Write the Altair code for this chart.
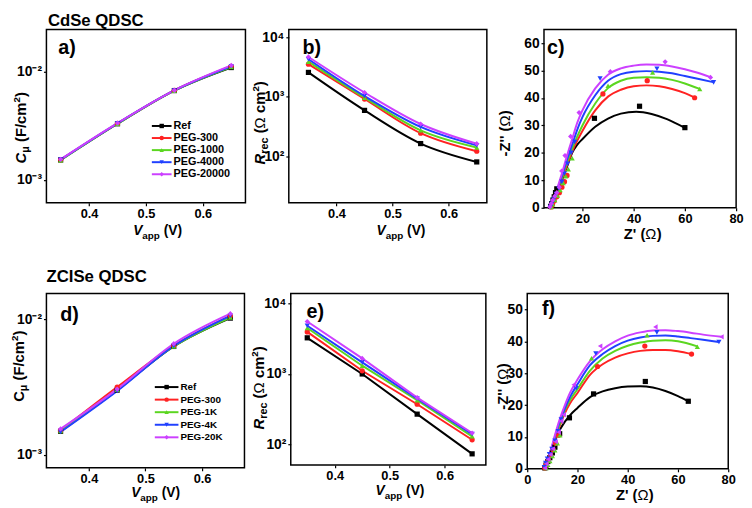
import altair as alt
import pandas as pd

FONT = "Liberation Sans"
COLORS = ["#000000", "#FF2222", "#5BD620", "#2040FF", "#CC40FF"]

# ---------------- data ----------------
V_APP = [0.35, 0.45, 0.55, 0.65]

A_NAMES = ["Ref", "PEG-300", "PEG-1000", "PEG-4000", "PEG-20000"]
A_REF = [1.53e-3, 3.30e-3, 6.68e-3, 1.09e-2]
A_P300 = [1.54e-3, 3.32e-3, 6.70e-3, 1.12e-2]
A_P1000 = [1.52e-3, 3.30e-3, 6.66e-3, 1.10e-2]
A_P4000 = [1.54e-3, 3.33e-3, 6.70e-3, 1.12e-2]
A_P20000 = [1.55e-3, 3.35e-3, 6.72e-3, 1.14e-2]

B_REF = [2570, 590, 163, 80]
B_P300 = [3540, 916, 244, 121]
B_P1000 = [3900, 966, 272, 140]
B_P4000 = [4290, 1030, 311, 152]
B_P20000 = [4680, 1180, 348, 162]

# panel c: Nyquist, measured points (Z', -Z'')
C_REF_X = [7.6, 8.0, 8.5, 9.0, 9.5, 10.0, 24.7, 42.3, 60.0]
C_REF_Y = [0.5, 1.5, 2.8, 4.0, 5.5, 6.9, 32.6, 37.0, 29.2]
C_P300_X = [7.8, 8.3, 9.0, 10.0, 11.0, 12.0, 13.0, 14.0, 28.0, 45.3, 63.8]
C_P300_Y = [0.3, 1.2, 2.5, 4.0, 5.5, 7.5, 9.5, 11.8, 41.5, 46.3, 40.1]
C_P1000_X = [7.8, 8.4, 9.2, 10.2, 11.3, 12.5, 13.5, 14.5, 16.0, 30.0, 47.4, 65.8]
C_P1000_Y = [0.3, 1.3, 2.8, 4.5, 6.5, 9.0, 11.5, 14.0, 18.0, 44.5, 49.3, 43.3]
C_P4000_X = [7.5, 8.1, 8.8, 9.8, 10.8, 12.0, 13.0, 14.2, 15.6, 17.0, 26.9, 49.1, 71.2]
C_P4000_Y = [0.3, 1.5, 3.0, 5.0, 7.0, 9.5, 12.5, 16.0, 20.0, 24.0, 47.1, 50.7, 45.7]
C_P20000_X = [7.3, 7.8, 8.4, 9.2, 10.0, 11.0, 11.9, 13.2, 15.4, 18.7, 30.9, 52.3, 70.0]
C_P20000_Y = [0.3, 1.5, 2.8, 4.2, 5.5, 7.5, 13.4, 19.0, 26.0, 34.7, 49.6, 53.2, 47.5]
# panel c: fitted curves
CF_REF_X = [7.5, 8.5, 10, 12, 14, 16, 18, 20, 25, 30, 35, 41, 47, 53, 60]
CF_REF_Y = [0, 2.5, 6, 10, 15, 20, 23, 25, 29.5, 32.5, 34.3, 35, 34.2, 32.3, 29.1]
CF_P300_X = [7.5, 8.5, 10, 12, 14, 16, 18, 20, 25, 30, 35, 40, 45, 50, 55, 60, 63.8]
CF_P300_Y = [0, 2.5, 6, 10.5, 15.5, 20.5, 24.5, 28, 35.5, 40.5, 43, 44.3, 44.6, 44.3, 43.3, 41.8, 40.2]
CF_P1000_X = [7.5, 8.5, 10, 12, 14, 16, 18, 20, 25, 30, 35, 40, 45, 50, 55, 60, 65.8]
CF_P1000_Y = [0, 2.5, 6, 11, 16.5, 21.5, 26, 30, 38, 43.6, 46.3, 47.4, 47.6, 47.4, 46.6, 45.3, 43.3]
CF_P4000_X = [7.5, 8.5, 10, 12, 14, 16, 18, 20, 25, 30, 35, 40, 45, 50, 55, 60, 65, 71]
CF_P4000_Y = [0, 2.6, 6.3, 11.5, 17.5, 23, 28.5, 33, 41, 46.3, 48.7, 49.6, 49.8, 49.6, 49, 48, 47, 45.8]
CF_P20000_X = [7.3, 8.3, 10, 12, 14, 16, 18, 20, 25, 30, 35, 40, 45, 50, 55, 60, 65, 70]
CF_P20000_Y = [0, 2.6, 6.6, 12.5, 19, 25, 31, 35.5, 43.5, 48.5, 50.8, 51.8, 52.2, 52.1, 51.5, 50.5, 49.2, 47.6]

D_NAMES = ["Ref", "PEG-300", "PEG-1K", "PEG-4K", "PEG-20K"]
D_REF = [1.49e-3, 3.00e-3, 6.30e-3, 1.02e-2]
D_P300 = [1.51e-3, 3.16e-3, 6.40e-3, 1.06e-2]
D_P1K = [1.50e-3, 3.02e-3, 6.30e-3, 1.03e-2]
D_P4K = [1.47e-3, 2.95e-3, 6.35e-3, 1.06e-2]
D_P20K = [1.55e-3, 3.05e-3, 6.60e-3, 1.10e-2]

E_REF = [3250, 1000, 270, 74]
E_P300 = [3940, 1110, 373, 117]
E_P1K = [4480, 1310, 425, 131]
E_P4K = [4820, 1460, 448, 141]
E_P20K = [5530, 1660, 463, 146]

F_REF_X = [7.0, 7.5, 8.2, 9.0, 10.0, 11.0, 12.9, 16.8, 26.4, 47.0, 64.1]
F_REF_Y = [0.3, 1.2, 2.3, 3.5, 5.0, 6.8, 11.0, 16.0, 23.5, 27.4, 21.2]
F_P300_X = [7.0, 7.6, 8.4, 9.3, 10.3, 11.3, 12.5, 28.0, 46.8, 65.4]
F_P300_Y = [0.3, 1.5, 2.8, 4.3, 6.0, 8.0, 10.5, 32.1, 38.5, 36.0]
F_P1K_X = [7.5, 8.2, 9.0, 10.0, 11.0, 12.0, 13.0, 25.6, 47.7, 67.7]
F_P1K_Y = [0.3, 1.3, 2.5, 4.0, 5.8, 8.0, 10.5, 34.7, 41.9, 38.3]
F_P4K_X = [6.8, 7.3, 8.0, 8.8, 9.8, 11.0, 12.3, 13.5, 19.5, 27.3, 51.6, 76.3]
F_P4K_Y = [0.5, 1.8, 3.2, 4.6, 6.2, 8.8, 11.8, 15.5, 25.3, 36.2, 42.8, 39.8]
F_P20K_X = [7.0, 7.6, 8.3, 9.2, 10.2, 11.3, 12.5, 13.5, 14.5, 18.5, 29.0, 51.0, 77.3]
F_P20K_Y = [0.3, 1.6, 3.0, 4.5, 6.3, 8.5, 11.5, 15.0, 17.0, 26.4, 38.5, 44.5, 41.4]
FF_REF_X = [6.8, 8, 9.5, 11, 12.5, 15, 17, 20, 25, 30, 35, 40, 45, 50, 55, 60, 64.1]
FF_REF_Y = [0, 2.5, 5.5, 8.8, 11.5, 14.8, 16.8, 19.1, 22.5, 24.3, 25.3, 25.8, 25.9, 25.5, 24.4, 22.8, 21.2]
FF_P300_X = [6.8, 8, 9.5, 11, 12.5, 15, 17, 20, 25, 30, 35, 40, 45, 50, 55, 60, 65.4]
FF_P300_Y = [0, 2.5, 5.5, 9, 12.5, 17.5, 20.5, 23.8, 29.5, 32.8, 34.9, 36.2, 37, 37.3, 37.3, 36.9, 36]
FF_P1K_X = [6.8, 8, 9.5, 11, 12.5, 15, 17, 20, 25, 30, 35, 40, 45, 50, 55, 60, 67.7]
FF_P1K_Y = [0, 2.5, 5.8, 9.5, 13, 18.5, 21.5, 25, 30.8, 34.6, 37, 38.6, 39.6, 40.2, 40.3, 40, 38.4]
FF_P4K_X = [6.8, 8, 9.5, 11, 12.5, 15, 17, 20, 25, 30, 35, 40, 45, 50, 55, 60, 65, 70, 76.3]
FF_P4K_Y = [0, 2.7, 6, 10, 13.8, 19, 22.5, 26.5, 32.5, 36, 38.5, 40.2, 41.2, 41.7, 41.8, 41.5, 41, 40.5, 39.8]
FF_P20K_X = [6.8, 8, 9.5, 11, 12.5, 15, 17, 20, 25, 30, 35, 40, 45, 50, 55, 60, 65, 70, 77.3]
FF_P20K_Y = [0, 2.8, 6.3, 10.5, 14.5, 20, 23.8, 28, 33.8, 37.5, 40, 41.8, 42.8, 43.4, 43.5, 43.2, 42.7, 42.1, 41.4]

SHAPES_A = ["square", "circle", "triangle-up", "triangle-down", "diamond"]
SHAPES_F = ["square", "circle", "triangle-up", "triangle-down", "triangle-left"]

ROW1_TITLE = "CdSe QDSC"
ROW2_TITLE = "ZCISe QDSC"

# ---------------- helpers ----------------
WID = {' ': 278, '(': 333, ')': 333, '/': 278, "'": 238, '-': 333, '.': 278,
       'C': 722, 'F': 611, 'R': 722, 'V': 667, 'Z': 611, 'a': 556, 'c': 556,
       'e': 556, 'm': 889, 'p': 611, 'r': 389, 'μ': 611, 'Ω': 768}


def tw(s, size):
    return sum(WID.get(ch, 556) for ch in s) * size / 1000.0


def one_row():
    return alt.Data(values=[{"k": 0}])


def rich(pieces, x, y, angle=0):
    out = []
    off = 0.0
    for (t, size, italic, shift, weight) in pieces:
        stripped = t.lstrip(" ")
        off += tw(" " * (len(t) - len(stripped)), size)
        out.append(
            alt.Chart(one_row()).mark_text(
                align="left", baseline="alphabetic", font=FONT, fontSize=size,
                fontStyle="italic" if italic else "normal", fontWeight=weight,
                angle=angle, dx=off, dy=shift, color="black",
            ).encode(x=alt.value(x), y=alt.value(y), text=alt.value(stripped))
        )
        off += tw(stripped, size)
    return out


def spacers(ext, top, w, h):
    # invisible layout guides fixing how far a panel reaches left and up
    left = alt.Chart(one_row()).mark_rule(opacity=0, strokeWidth=1).encode(
        x=alt.value(-ext), x2=alt.value(-ext), y=alt.value(h / 2), y2=alt.value(h / 2 + 1))
    up = alt.Chart(one_row()).mark_rule(opacity=0, strokeWidth=1).encode(
        x=alt.value(w / 2), x2=alt.value(w / 2 + 1), y=alt.value(-top), y2=alt.value(-top))
    return [left, up]


def series_df(xs, ys, name):
    return pd.DataFrame({"x": xs, "y": ys, "s": name})


def make_panel(pts, fits, names, shapes, xdom, ydom, ylog, xvals, xfmt, yvals,
               ylabexpr, w, h, interp, extras, ext, top, legend=None):
    xs = alt.Scale(domain=xdom, nice=False, zero=False)
    if ylog:
        ys = alt.Scale(type="log", domain=ydom, nice=False)
    else:
        ys = alt.Scale(domain=ydom, nice=False, zero=False)
    xax = alt.Axis(values=xvals, format=xfmt, title=None, labelFontSize=13)
    ykw = dict(values=yvals, title=None, labelFontSize=14)
    if ylabexpr:
        ykw["labelExpr"] = ylabexpr
    else:
        ykw["format"] = "d"
    yax = alt.Axis(**ykw)
    cs = alt.Scale(domain=names, range=COLORS)
    ss = alt.Scale(domain=names, range=shapes)
    X = alt.X("x:Q", scale=xs, axis=xax)
    Y = alt.Y("y:Q", scale=ys, axis=yax)
    C = alt.Color("s:N", scale=cs, legend=None)
    S = alt.Shape("s:N", scale=ss, legend=None)
    layers = []
    for df in fits:
        layers.append(alt.Chart(df).mark_line(interpolate=interp, strokeWidth=2)
                      .encode(x=X, y=Y, color=C))
    pdf = pd.concat(pts, ignore_index=True)
    layers.append(alt.Chart(pdf).mark_point(filled=True, size=28, opacity=1)
                  .encode(x=X, y=Y, color=C, shape=S))
    main = alt.layer(*layers, *extras, *spacers(ext, top, w, h))
    if legend is not None:
        (y0, y1, lx0, lx1, tx, fs) = legend
        ldf = pd.DataFrame({"s": names, "i": list(range(len(names)))})
        LY = alt.Y("i:Q", scale=alt.Scale(domain=[0, len(names) - 1], range=[y0, y1]), axis=None)
        r = alt.Chart(ldf).mark_rule(strokeWidth=2).encode(
            x=alt.value(lx0), x2=alt.value(lx1), y=LY, color=C)
        p = alt.Chart(ldf).mark_point(filled=True, size=20, opacity=1).encode(
            x=alt.value((lx0 + lx1) / 2), y=LY, color=C, shape=S)
        t = alt.Chart(ldf).mark_text(align="left", baseline="middle", font=FONT,
                                     fontSize=fs, fontWeight="bold", color="black").encode(
            x=alt.value(tx), y=LY, text="s:N")
        leg = alt.layer(r, p, t)
        ch = alt.layer(main, leg).resolve_scale(y="independent")
    else:
        ch = main
    return ch.properties(width=w, height=h)


LOG_SMALL = "datum.value < 0.005 ? '10⁻³' : '10⁻²'"
LOG_BIG = "datum.value < 500 ? '10²' : (datum.value < 5000 ? '10³' : '10⁴')"

VAPP = [("V", 14, True, 0, "bold"), ("app", 10, False, 4, "bold"), (" (V)", 14, False, 0, "bold")]
CMU_I = [("C", 15, True, 0, "bold"), ("μ", 11, False, 3, "bold"), (" (F/cm", 15, False, 0, "bold"),
         ("2", 10, False, -6, "bold"), (")", 15, False, 0, "bold")]
CMU_N = [("C", 15, False, 0, "bold"), ("μ", 11, False, 3, "bold"), (" (F/cm", 15, False, 0, "bold"),
         ("2", 10, False, -6, "bold"), (")", 15, False, 0, "bold")]
RREC = [("R", 15, True, 0, "bold"), ("rec", 11, False, 3, "bold"), (" (", 15, False, 0, "bold"),
        ("Ω", 15, False, 0, "normal"), (" cm", 15, False, 0, "bold"), ("2", 10, False, -6, "bold"),
        (")", 15, False, 0, "bold")]
ZIM = [("-Z'' (", 15, False, 0, "bold"), ("Ω", 15, False, 0, "normal"), (")", 15, False, 0, "bold")]
ZRE = [("Z' (", 15, False, 0, "bold"), ("Ω", 15, False, 0, "normal"), (")", 15, False, 0, "bold")]


def tag(s, x, y):
    return rich([(s, 20, False, 0, "bold")], x, y)


def heading(s, x, y):
    return rich([(s, 17, False, 0, "bold")], x, y)


T1 = 16   # spacer height above row-1 plots (heading reaches further)
T2 = 26   # how far row 2 reaches above its plots

# ---------------- panels ----------------
a_pts = [series_df(V_APP, v, n) for v, n in zip([A_REF, A_P300, A_P1000, A_P4000, A_P20000], A_NAMES)]
pa = make_panel(a_pts, a_pts, A_NAMES, SHAPES_A, [0.325, 0.675], [6.15e-4, 2.45e-2], True,
                [0.4, 0.5, 0.6], ".1f", [0.001, 0.01], LOG_SMALL, 202, 176, "monotone",
                rich(CMU_I, -21, 136, 270) + rich(VAPP, 88, 209) + tag("a)", 12, 25)
                + heading(ROW1_TITLE, 1.5, -3), 35, T1,
                legend=(98, 147, 107, 127, 129, 11))

b_pts = [series_df(V_APP, v, n) for v, n in zip([B_REF, B_P300, B_P1000, B_P4000, B_P20000], A_NAMES)]
pb = make_panel(b_pts, b_pts, A_NAMES, SHAPES_A, [0.315, 0.668], [16.4, 13600], True,
                [0.4, 0.5, 0.6], ".1f", [100, 1000, 10000], LOG_BIG, 201, 176, "monotone",
                rich(RREC, -24, 137, 270) + rich(VAPP, 89, 209) + tag("b)", 14, 25), 42, T1)

c_pts = [series_df(x, y, n) for x, y, n in zip(
    [C_REF_X, C_P300_X, C_P1000_X, C_P4000_X, C_P20000_X],
    [C_REF_Y, C_P300_Y, C_P1000_Y, C_P4000_Y, C_P20000_Y], A_NAMES)]
c_fit = [series_df(x, y, n) for x, y, n in zip(
    [CF_REF_X, CF_P300_X, CF_P1000_X, CF_P4000_X, CF_P20000_X],
    [CF_REF_Y, CF_P300_Y, CF_P1000_Y, CF_P4000_Y, CF_P20000_Y], A_NAMES)]
pc = make_panel(c_pts, c_fit, A_NAMES, SHAPES_A, [5, 80], [0, 65], False,
                [20, 40, 60, 80], "d", [0, 10, 20, 30, 40, 50, 60], None, 195, 181, "monotone",
                rich(ZIM, -34, 129, 270) + rich(ZRE, 81, 213) + tag("c)", 3, 25), 55.5, T1)

d_pts = [series_df(V_APP, v, n) for v, n in zip([D_REF, D_P300, D_P1K, D_P4K, D_P20K], D_NAMES)]
pd_ = make_panel(d_pts, d_pts, D_NAMES, SHAPES_A, [0.325, 0.675], [8.0e-4, 1.55e-2], True,
                 [0.4, 0.5, 0.6], ".1f", [0.001, 0.01], LOG_SMALL, 201, 177, "monotone",
                 rich(CMU_N, -23, 110, 270) + rich(VAPP, 86, 207) + tag("d)", 14, 28)
                 + heading(ROW2_TITLE, 0, -12), 37.5, T2,
                 legend=(95, 146, 110, 134, 136, 10))

e_pts = [series_df(V_APP, v, n) for v, n in zip([E_REF, E_P300, E_P1K, E_P4K, E_P20K], D_NAMES)]
pe = make_panel(e_pts, e_pts, D_NAMES, SHAPES_A, [0.32, 0.675], [51.6, 13800], True,
                [0.4, 0.5, 0.6], ".1f", [100, 1000, 10000], LOG_BIG, 198, 174, "linear",
                rich(RREC, -27, 138, 270) + rich(VAPP, 86, 205) + tag("e)", 16, 25), 44.75, T2)

f_pts = [series_df(x, y, n) for x, y, n in zip(
    [F_REF_X, F_P300_X, F_P1K_X, F_P4K_X, F_P20K_X],
    [F_REF_Y, F_P300_Y, F_P1K_Y, F_P4K_Y, F_P20K_Y], D_NAMES)]
f_fit = [series_df(x, y, n) for x, y, n in zip(
    [FF_REF_X, FF_P300_X, FF_P1K_X, FF_P4K_X, FF_P20K_X],
    [FF_REF_Y, FF_P300_Y, FF_P1K_Y, FF_P4K_Y, FF_P20K_Y], D_NAMES)]
pf = make_panel(f_pts, f_fit, D_NAMES, SHAPES_F, [0, 80], [0, 55], False,
                [0, 20, 40, 60, 80], "d", [0, 10, 20, 30, 40, 50], None, 204, 178, "monotone",
                rich(ZIM, -20, 118, 270) + rich(ZRE, 90, 210) + tag("f)", 15, 22), 39.75, T2)


def indep(c):
    return c.resolve_scale(color="independent", shape="independent")


row1 = indep(alt.hconcat(pa, pb, pc, spacing=0))
row2 = indep(alt.hconcat(pd_, pe, pf, spacing=0))

chart = indep(alt.vconcat(row1, row2, spacing=24)).properties(
    padding={"left": 0, "top": 0, "right": 0, "bottom": 0}
).configure_view(
    stroke="black", strokeWidth=1.5
).configure_axis(
    domain=False, grid=False, tickColor="black", tickSize=3, tickWidth=1.2,
    labelFont=FONT, labelFontWeight="bold", labelColor="black",
    labelPadding=2, labelFlush=False, labelOverlap=False
)

chart.save("out.html", embed_options={"renderer": "svg", "actions": False})
